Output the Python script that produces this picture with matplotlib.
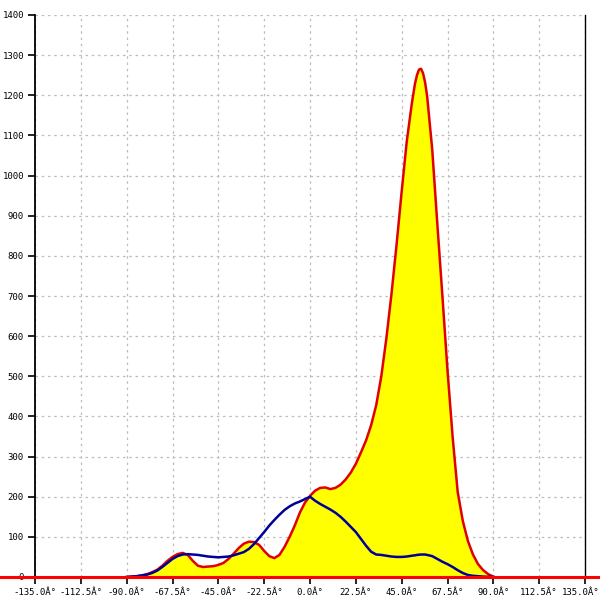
import matplotlib
matplotlib.use("Agg")
import matplotlib.pyplot as plt
import matplotlib.transforms as mtransforms

# ---- data ----
angles = [-90, -87.5, -85, -82.5, -80, -77.5, -75, -72.5, -70, -67.5, -65, -62.5,
          -60, -57.5, -55, -52.5, -50, -47.5, -45, -42.5, -40, -37.5, -35, -32.5,
          -30, -27.5, -25, -22.5, -20, -17.5, -15, -12.5, -10, -7.5, -5, -2.5,
          0, 2.5, 5, 7.5, 10, 12.5, 15, 17.5, 20, 22.5, 25, 27.5,
          30, 32.5, 35, 37.5, 40, 42.5, 45, 47.5, 50, 51.5, 52.5, 53.5, 54.5, 55.5,
          56.5, 57.5, 60, 62.5, 65, 67.5, 70, 72.5, 75, 77.5, 80, 82.5, 85,
          87.5, 90]
red_vals = [0, 1, 2, 4, 7, 12, 18, 28, 40, 50, 57, 60,
            55, 40, 28, 25, 26, 27, 30, 35, 45, 58, 72, 83,
            88, 87, 80, 65, 52, 47, 55, 75, 100, 128, 160, 185,
            202, 215, 222, 223, 219, 222, 230, 243, 260, 282, 310, 340,
            378, 428, 500, 595, 705, 828, 960, 1085, 1180, 1228, 1250, 1264, 1266, 1255,
            1232, 1198, 1065, 880, 700, 515, 350, 212, 140, 90, 56, 32, 17,
            7, 1]
blue_vals = [0, 1, 2, 4, 6, 10, 16, 25, 35, 45, 52, 56,
             57, 56, 55, 53, 51, 50, 49, 50, 51, 54, 58, 62,
             70, 82, 97, 112, 128, 142, 155, 167, 176, 183, 188, 194,
             200, 190, 182, 175, 168, 160, 150, 138, 125, 112, 95, 78,
             63, 56, 55, 53, 51, 50, 50, 51, 53, 54, 55, 55.5, 56, 56,
             56, 55, 52, 45, 38, 32, 25, 17, 10, 5, 3, 2, 1,
             0.5, 0]
xticks = [-135.0, -112.5, -90.0, -67.5, -45.0, -22.5, 0.0, 22.5, 45.0, 67.5, 90.0, 112.5, 135.0]
xticklabels = [f"{v:.1f}Â°" for v in xticks]
yticks = list(range(0, 1401, 100))
yticklabels = [str(v) for v in yticks]

fig = plt.figure(figsize=(6, 6), dpi=100)
ax = fig.add_axes([35/600, 23/600, 550/600, 562/600])

ax.fill_between(angles, 0, red_vals, color="#ffff00", zorder=2, linewidth=0)
ax.plot(angles, red_vals, color="#e00000", linewidth=1.8, zorder=3)
ax.plot(angles, blue_vals, color="#000099", linewidth=1.8, zorder=4)

# baseline across the whole figure width
ax.plot([-153, 153], [0, 0], color="#ff0000", linewidth=2.2, zorder=6, clip_on=False)

ax.set_xlim(-135, 135)
ax.set_ylim(0, 1400)
ax.set_xticks(xticks)
ax.set_xticklabels(xticklabels)
ax.set_yticks(yticks)
ax.set_yticklabels(yticklabels)

ax.grid(True, color="#bdbdbd", linestyle=(0, (2, 3)), linewidth=0.9, zorder=1)
ax.set_axisbelow(True)

ax.spines["top"].set_visible(False)
ax.spines["bottom"].set_visible(False)
ax.spines["left"].set_color("black")
ax.spines["left"].set_linewidth(1.3)
ax.spines["right"].set_color("black")
ax.spines["right"].set_linewidth(1.0)

ax.tick_params(axis="both", direction="out", length=5, width=1.2, colors="black",
               labelsize=6.5, pad=3)
for lab in ax.get_xticklabels() + ax.get_yticklabels():
    lab.set_family("DejaVu Sans Mono")

# nudge the last x label so it stays inside the image
last = ax.get_xticklabels()[-1]
last.set_transform(last.get_transform() + mtransforms.ScaledTranslation(-4/100, 0, fig.dpi_scale_trans))

fig.savefig("out.png", dpi=100, facecolor="white")
